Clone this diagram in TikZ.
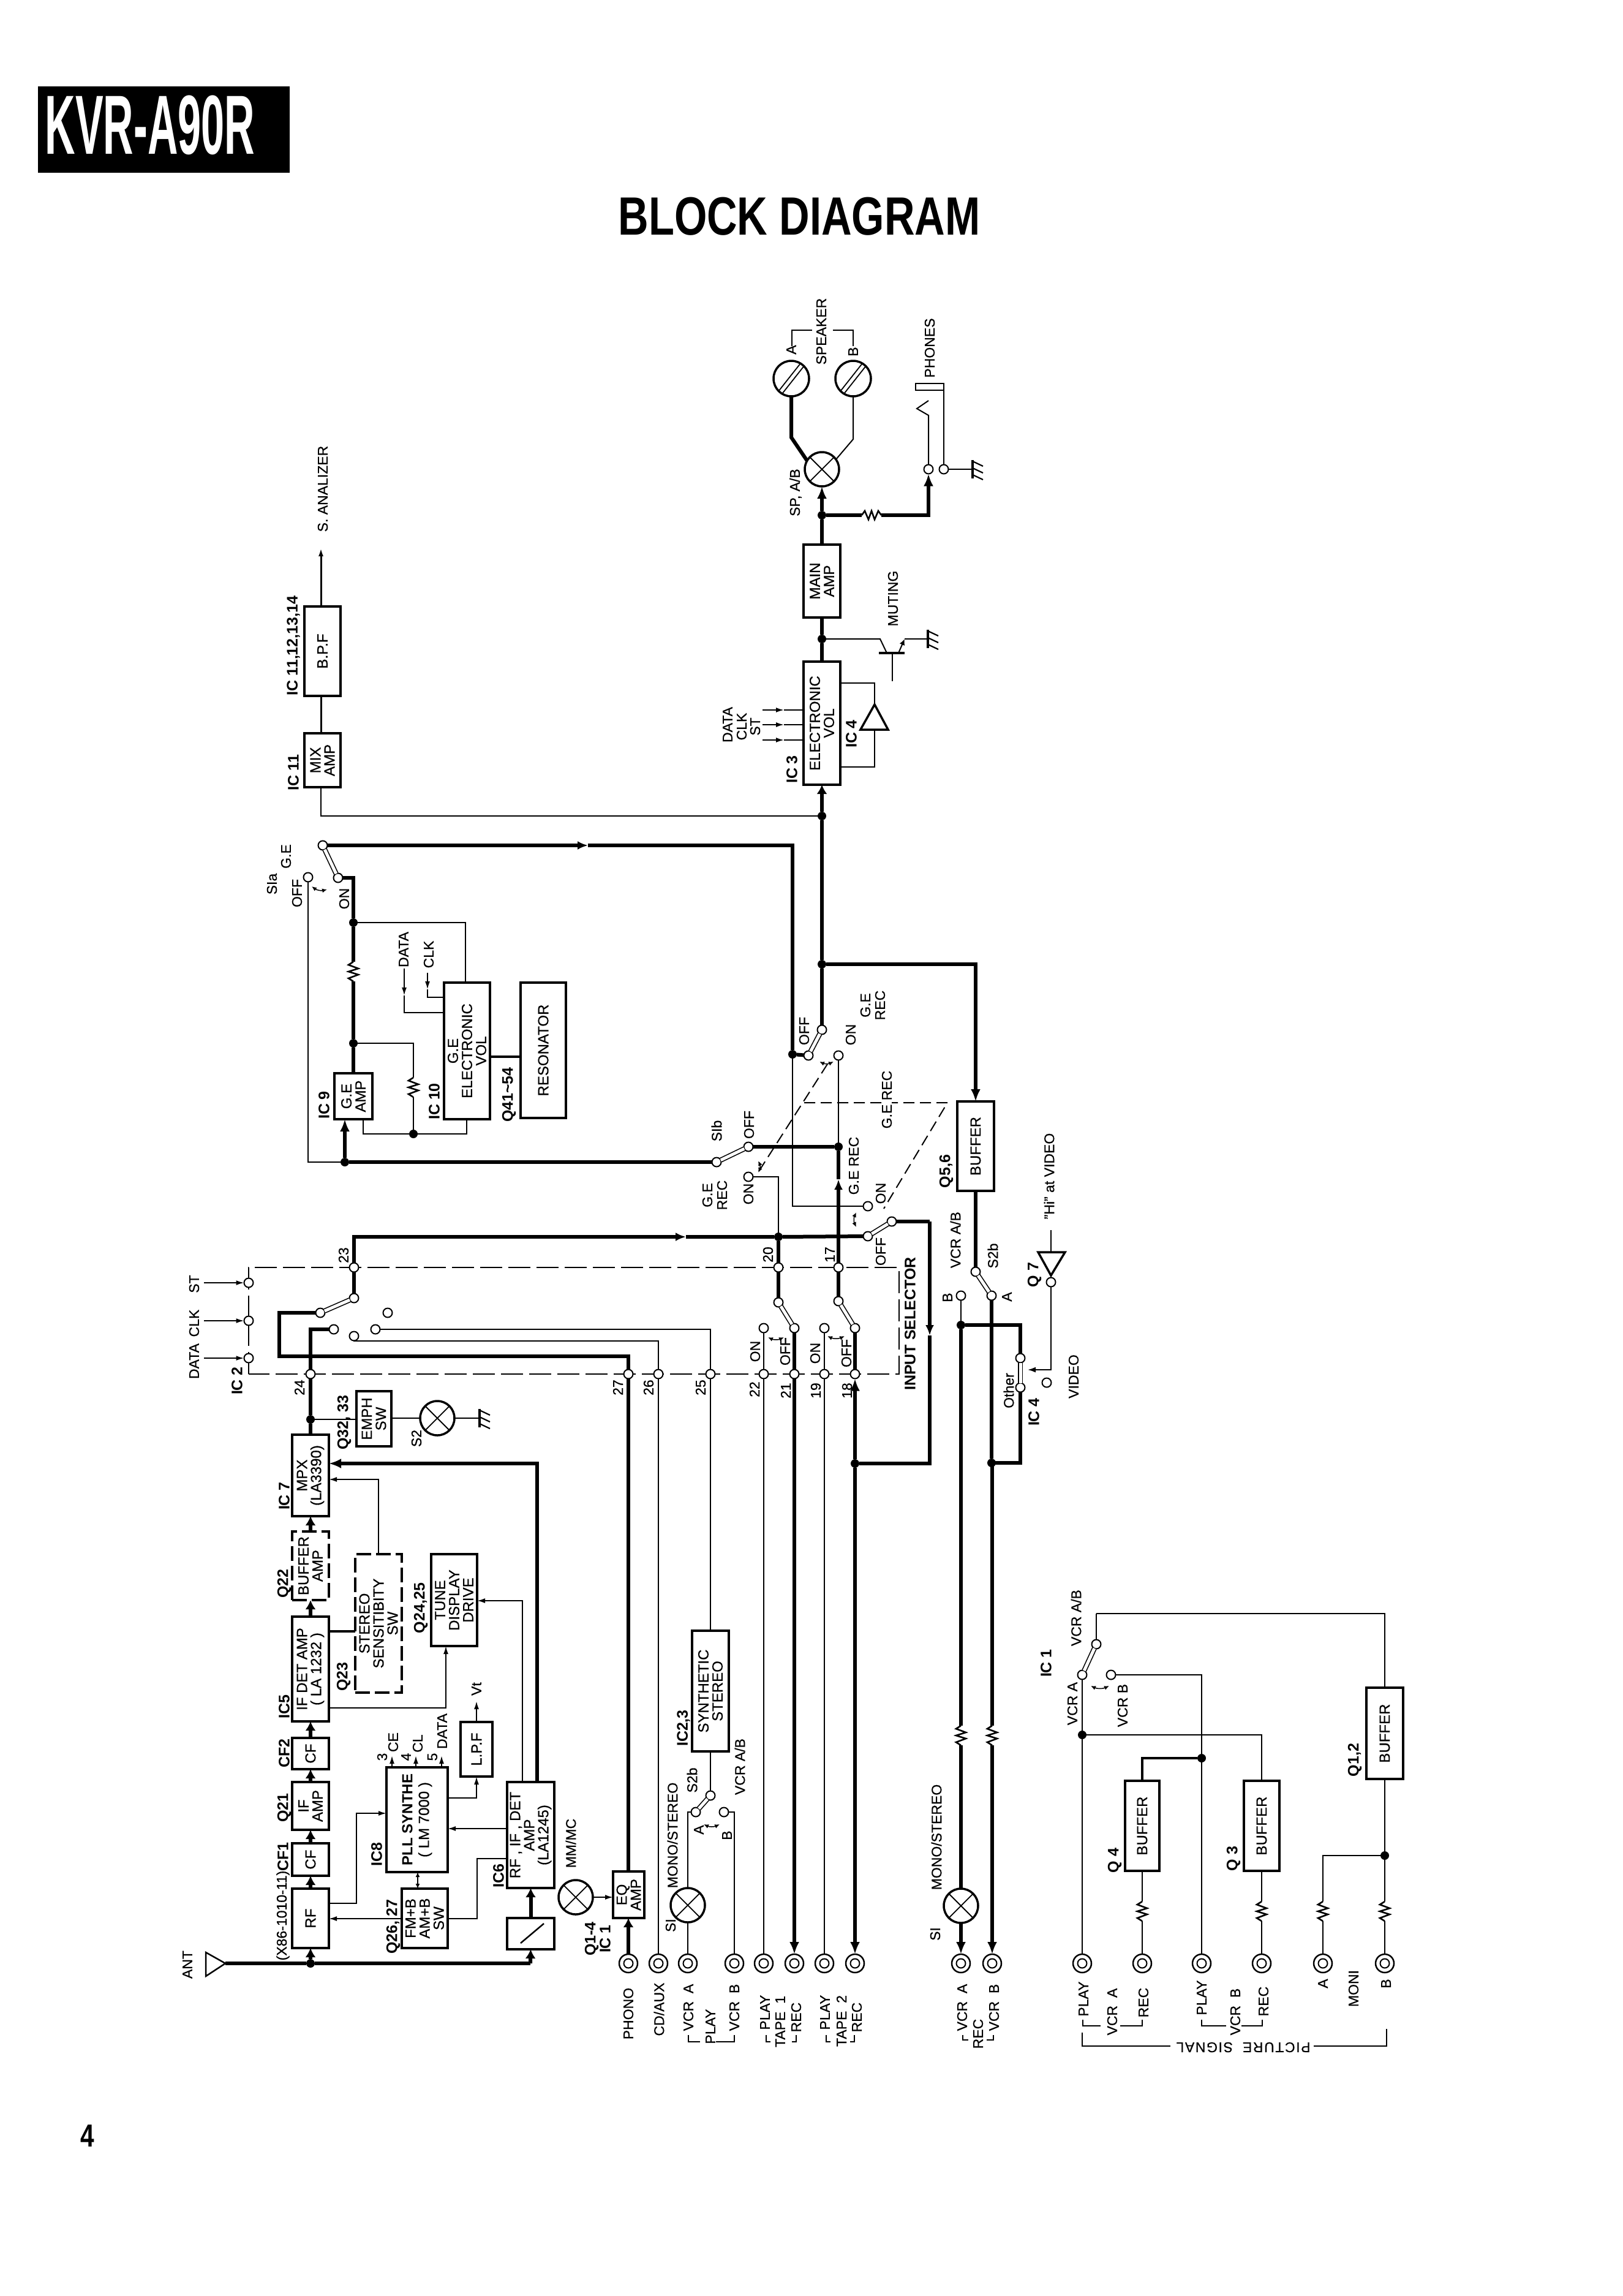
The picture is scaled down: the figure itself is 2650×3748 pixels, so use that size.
\documentclass[tikz,border=0pt]{standalone}
\usepackage{fontspec}
\setmainfont[FakeBold=0.6]{Liberation Sans}
\newfontfamily\boldlabel{Liberation Sans Bold}
\newfontfamily\bannerfont[FakeStretch=0.5]{Liberation Sans Bold}
\newfontfamily\titlefont[FakeStretch=0.78]{Liberation Sans Bold}
\usetikzlibrary{arrows.meta}
\tikzset{
  blockbox/.style={draw,rectangle,line width=3.5pt,inner sep=0pt,outer sep=0pt,fill=white},
  dashbox/.style={blockbox,dash pattern=on 24pt off 8pt},
  blocktext/.style={rotate=90,inner sep=0pt,align=center,font=\fontsize{24}{23}\selectfont},
  lab/.style={rotate=90,inner sep=0pt,align=center,font=\fontsize{23}{24}\selectfont},
  blab/.style={rotate=90,inner sep=0pt,align=center,font=\fontsize{25}{27}\selectfont\boldlabel},
  term/.style={circle,draw,fill=white,line width=2pt,minimum size=15pt,inner sep=0pt,outer sep=0pt},
  dotj/.style={circle,fill=black,minimum size=14pt,inner sep=0pt,outer sep=0pt},
  lamp/.style={circle,draw,fill=white,line width=3.5pt,minimum size=56pt,inner sep=0pt,outer sep=0pt,
    path picture={\draw[line width=1.8pt]
      (path picture bounding box.north west) -- (path picture bounding box.south east)
      (path picture bounding box.north east) -- (path picture bounding box.south west);}},
  speakerhead/.style={circle,draw,fill=white,line width=3.5pt,minimum size=58pt,inner sep=0pt,outer sep=0pt,
    path picture={\draw[line width=1.8pt,shift={(path picture bounding box.center)}]
      (-27,40) -- (33,-36) (-33,36) -- (27,-40);}},
  jackbox/.style={circle,draw,fill=white,line width=2.5pt,minimum size=30pt,inner sep=0pt,outer sep=0pt,
    path picture={\draw[line width=2pt] (path picture bounding box.center) circle (7.5pt);}},
  wa/.style={line width=2pt},
  wm/.style={line width=3.5pt},
  wb/.style={line width=6pt},
  tipB/.style={-{Latex[length=20pt,width=16pt]}},
  tipC/.style={-{Latex[length=15pt,width=17pt]}},
  tipL/.style={-{Latex[length=17pt,width=14pt]}},
  tipS/.style={-{Latex[length=13pt,width=8pt]}},
  armbar/.style={line width=1.6pt,double=white,double distance=5pt},
  busline/.style={line width=2pt,dash pattern=on 36pt off 10pt},
  linkline/.style={line width=2pt,dash pattern=on 18pt off 9pt},
  swing/.style={line width=1.5pt,{Latex[length=8pt,width=7pt]}-{Latex[length=8pt,width=7pt]}},
  groundbar/.pic={
    \draw[line width=4pt] (0,-15) -- (0,15);
    \draw[line width=2.2pt] (0,-13) -- (17,-5) (0,-2) -- (17,6) (0,9) -- (17,17);
    \coordinate (-in) at (0,0);
  },
  resv/.pic={
    \draw[line width=2.6pt] (0,-16) -- (-8,-11) -- (8,-5) -- (-8,0) -- (8,5) -- (-8,11) -- (0,16);
    \coordinate (-t) at (0,-16);
    \coordinate (-b) at (0,16);
  },
  resh/.pic={
    \draw[line width=2.6pt] (-16,0) -- (-11,-7) -- (-5,7) -- (0,-7) -- (5,7) -- (11,-7) -- (16,0);
    \coordinate (-l) at (-16,0);
    \coordinate (-r) at (16,0);
  },
}
% a block given by its corners, with its text set along the vertical
\newcommand\blk[7][]{%
  \node[blockbox,#1,minimum width={#5-#3},minimum height={#6-#4}] (#2) at ({(#3+#5)/2},{(#4+#6)/2}) {};
  \node[blocktext] (#2-text) at (#2.center) {#7};}
\newcommand\tl[4][lab]{\node[#1] (#2) at (#3) {#4};}
\begin{document}
\begin{tikzpicture}[x=1pt,y=-1pt]
\useasboundingbox (0,0) rectangle (2650,3748);
\fill[white] (0,0) rectangle (2650,3748);

% ---------- heading ----------
\node[fill=black,minimum width=411pt,minimum height=141pt,inner sep=0pt] (bannerbox) at (267.5,211.5) {};
\node[inner sep=0pt,text=white,font=\fontsize{137}{137}\selectfont\bannerfont] (banner) at (245,204) {KVR-A90R};
\node[inner sep=0pt,font=\fontsize{88}{88}\selectfont\titlefont] (heading) at (1305,353) {BLOCK DIAGRAM};
\node[inner sep=0pt,font=\fontsize{52}{52}\selectfont\titlefont] (pageno) at (143,3487) {4};

% ---------- control bus of the input selector IC ----------
\coordinate (busTL) at (406,2069);
\coordinate (busTR) at (1468,2069);
\coordinate (busBR) at (1468,2243);
\coordinate (busBL) at (406,2243);
\draw[busline] (busBL) -- (busTL) -- (busTR) -- (busBR) -- (busBL);

% ---------- blocks ----------
\blk{mpx}{477}{2342}{537}{2475}{MPX\\(LA3390)}
\blk[dashbox]{bufamp}{477}{2500}{537}{2612}{BUFFER\\AMP}
\blk{ifdet}{477}{2639}{537}{2810}{IF DET AMP\\( LA 1232 )}
\blk{cftwo}{477}{2837}{537}{2888}{CF}
\blk{ifamp}{477}{2909}{537}{2987}{IF\\AMP}
\blk{cfone}{477}{3009}{537}{3062}{CF}
\blk{rf}{477}{3083}{537}{3180}{RF}
\blk[dashbox]{stereo}{580}{2537}{656}{2763}{STEREO\\SENSITIBITY\\SW}
\blk{emph}{582}{2271}{639}{2361}{EMPH\\SW}
\blk{tune}{704}{2537}{779}{2687}{TUNE\\DISPLAY\\DRIVE}
\blk{lpf}{752}{2811}{804}{2900}{L.P.F}
\blk{pll}{631}{2885}{731}{3056}{{\boldlabel PLL SYNTHE}\\[4pt]( LM 7000 )}
\blk{fmsw}{656}{3083}{731}{3180}{FM+B\\AM+B\\SW}
\blk{rfif}{828}{2909}{905}{3082}{RF , IF , DET\\AMP\\(LA1245)}
\blk{tuner}{828}{3131}{905}{3182}{}
\blk{eqamp}{1001}{3055}{1052}{3131}{EQ\\AMP}
\blk{synth}{1130}{2662}{1190}{2859}{SYNTHETIC\\STEREO}
\blk{geamp}{546}{1752}{608}{1827}{G.E\\AMP}
\blk{gevol}{725}{1604}{800}{1827}{G.E\\ELECTRONIC\\VOL}
\blk{reson}{850}{1604}{924}{1825}{RESONATOR}
\blk{bpf}{497}{990}{556}{1136}{B.P.F}
\blk{mix}{497}{1197}{556}{1285}{MIX\\AMP}
\blk{ic3}{1312}{1080}{1372}{1281}{ELECTRONIC\\VOL}
\blk{mainamp}{1312}{889}{1372}{1008}{MAIN\\AMP}
\blk{bufmain}{1563}{1798}{1623}{1944}{BUFFER}
\blk{bufqfour}{1837}{2907}{1893}{3054}{BUFFER}
\blk{bufqthree}{2031}{2907}{2089}{3054}{BUFFER}
\blk{bufqone}{2231}{2755}{2291}{2904}{BUFFER}
\coordinate (tunerSlashA) at (850,3172);
\coordinate (tunerSlashB) at (888,3140);
\draw[line width=2.5pt] (tunerSlashA) -- (tunerSlashB);

% ---------- lamps and speakers ----------
\node[lamp] (lampStwo) at (714,2315) {};
\node[lamp] (lampMM) at (940,3097) {};
\node[lamp] (lampSone) at (1123,3110) {};
\node[lamp] (lampSoneR) at (1569,3111) {};
\node[lamp] (spab) at (1342,766) {};
\node[speakerhead] (spkA) at (1292,618) {};
\node[speakerhead] (spkB) at (1393,618) {};

% ---------- jacks ----------
\node[jackbox] (jPhono) at (1026,3205) {};
\node[jackbox] (jCD) at (1075,3205) {};
\node[jackbox] (jVA) at (1123,3205) {};
\node[jackbox] (jVB) at (1199,3205) {};
\node[jackbox] (jTP1) at (1247,3205) {};
\node[jackbox] (jTR1) at (1297,3205) {};
\node[jackbox] (jTP2) at (1346,3205) {};
\node[jackbox] (jTR2) at (1396,3205) {};
\node[jackbox] (jRA) at (1569,3205) {};
\node[jackbox] (jRB) at (1620,3205) {};
\node[jackbox] (jPA) at (1767,3205) {};
\node[jackbox] (jPRA) at (1865,3205) {};
\node[jackbox] (jPB) at (1962,3205) {};
\node[jackbox] (jPRB) at (2060,3205) {};
\node[jackbox] (jMA) at (2160,3205) {};
\node[jackbox] (jMB) at (2261,3205) {};

% ---------- bus terminals and switch contacts ----------
\node[term] (t24) at (507,2243) {};
\node[term] (t27) at (1026,2243) {};
\node[term] (t26) at (1075,2243) {};
\node[term] (t25) at (1160,2243) {};
\node[term] (t22) at (1247,2243) {};
\node[term] (t21) at (1297,2243) {};
\node[term] (t19) at (1346,2243) {};
\node[term] (t18) at (1396,2243) {};
\node[term] (t23) at (578,2069) {};
\node[term] (t20) at (1271,2069) {};
\node[term] (t17) at (1369,2069) {};
\node[term] (tST) at (406,2094) {};
\node[term] (tCLK) at (406,2156) {};
\node[term] (tDATA) at (406,2217) {};
\node[term] (selPole) at (578,2119) {};
\node[term] (selA) at (523,2143) {};
\node[term] (selB) at (545,2170) {};
\node[term] (selC) at (578,2181) {};
\node[term] (selD) at (613,2170) {};
\node[term] (selE) at (633,2143) {};
\node[term] (swaPole) at (1271,2126) {};
\node[term] (swaOff) at (1297,2168) {};
\node[term] (swaOn) at (1247,2168) {};
\node[term] (swbPole) at (1369,2124) {};
\node[term] (swbOff) at (1396,2168) {};
\node[term] (swbOn) at (1346,2168) {};
\node[term] (recPole) at (1456,1994) {};
\node[term] (recOff) at (1417,2018) {};
\node[term] (recOn) at (1417,1969) {};
\node[term] (sibPole) at (1170,1897) {};
\node[term] (sibOff) at (1222,1872) {};
\node[term] (sibOn) at (1222,1921) {};
\node[term] (gePole) at (1342,1681) {};
\node[term] (geOff) at (1320,1723) {};
\node[term] (geOn) at (1369,1723) {};
\node[term] (siaPole) at (527,1380) {};
\node[term] (siaOn) at (552,1433) {};
\node[term] (siaOff) at (503,1432) {};
\node[term] (vidPole) at (1593,2076) {};
\node[term] (vidA) at (1619,2115) {};
\node[term] (vidB) at (1569,2115) {};
\node[term] (icfourA) at (1666,2217) {};
\node[term] (icfourB) at (1666,2265) {};
\node[term] (icfourC) at (1709,2257) {};
\node[term] (qsevenOut) at (1716,2093) {};
\node[term] (sbPole) at (1160,2931) {};
\node[term] (sbA) at (1136,2958) {};
\node[term] (sbB) at (1182,2958) {};
\node[term] (picPole) at (1790,2684) {};
\node[term] (picA) at (1767,2734) {};
\node[term] (picB) at (1814,2734) {};
\node[term] (phTip) at (1516,766) {};
\node[term] (phSleeve) at (1541,766) {};

% ---------- junctions ----------
\node[dotj] (jAnt) at (507,3205) {};
\node[dotj] (jEmph) at (507,2317) {};
\node[dotj] (jTop) at (1271,2019) {};
\node[dotj] (jTape) at (1396,2389) {};
\node[dotj] (jGe) at (1294,1721) {};
\node[dotj] (jRec) at (1369,1872) {};
\node[dotj] (jBuf) at (1342,1574) {};
\node[dotj] (jMix) at (1342,1332) {};
\node[dotj] (jMute) at (1342,1043) {};
\node[dotj] (jPhones) at (1342,841) {};
\node[dotj] (jVolA) at (577,1506) {};
\node[dotj] (jVolB) at (577,1703) {};
\node[dotj] (jVolC) at (675,1851) {};
\node[dotj] (jAmpIn) at (563,1897) {};
\node[dotj] (jVidB) at (1569,2163) {};
\node[dotj] (jVidA) at (1619,2388) {};
\node[dotj] (jPicA) at (1767,2832) {};
\node[dotj] (jPicB) at (1962,2870) {};
\node[dotj] (jMoni) at (2261,3029) {};

% ---------- tuner signal path ----------
\coordinate (antTip) at (368,3205);
\draw[line width=2.5pt] (336,3187) -- (antTip) -- (336,3226) -- cycle;
\coordinate (antEnd) at (866,3205);
\draw[wb] (antTip) -- (jAnt) -- (antEnd);
\draw[wb,tipC] (jAnt) -- (rf.south);
\draw[wb,tipC] (antEnd) -- (tuner.south);
\draw[wb,tipC] (tuner.north) -- (tuner.north |- rfif.south);
\draw[wb,tipC] (rf.north) -- (cfone.south);
\draw[wb,tipC] (cfone.north) -- (ifamp.south);
\draw[wb,tipC] (ifamp.north) -- (cftwo.south);
\draw[wb,tipC] (cftwo.north) -- (ifdet.south);
\draw[wb,tipC] (ifdet.north) -- (bufamp.south);
\draw[wb,tipC] (bufamp.north) -- (mpx.south);
\draw[wb] (mpx.north) -- (jEmph) -- (t24);
\draw[wb] (t24) |- (selB);
\draw[wa] (jEmph) -- (emph.west |- jEmph);
\draw[wa] (emph.east |- lampStwo) -- (lampStwo);
\pic (gndStwo) at (783,2315) {groundbar};
\draw[wa] (lampStwo) -- (gndStwo-in);
\draw[wb,tipB] (877,2909) |- (mpx.east |- 0,2389);
\draw[wa,tipS] (853,2909) |- (tune.east |- 0,2613);
\draw[wa,tipS] (ifdet.east |- 0,2788) -| (tune.south -| 728,0);
\draw[wm] (ifdet.east |- 0,2663) -- (stereo.west |- 0,2663);
\draw[wa,tipS] (stereo.north -| 618,0) |- (mpx.east |- 0,2415);
\draw[wa,tipS] (pll.east |- 0,2935) -| (lpf.south -| 778,0);
\draw[wa,tipS] (lpf.north) -- (778,2777);
\draw[wa,tipS] (rfif.west |- 0,2985) -- (pll.east |- 0,2985);
\draw[wa,tipS] (rf.east |- 0,3107) -- (582,3107) |- (pll.west |- 0,2960);
\draw[wa,tipS] (fmsw.west |- 0,3132) -- (rf.east |- 0,3132);
\draw[wa,<->,>={Latex[length=8pt,width=7pt]}] (682,3056) -- (682,3083);
\draw[wa] (fmsw.east |- 0,3132) -- (779,3132) |- (rfif.west |- 0,3034);
\draw[wa,tipS] (640,2885) -- (640,2866);
\draw[wa,tipS] (679,2885) -- (679,2866);
\draw[wa,tipS] (721,2885) -- (721,2866);
\draw[wa,tipS] (lampMM) -- (eqamp.west |- lampMM);
\draw[wb,tipC] (jPhono) -- (eqamp.south -| jPhono);
\draw[wb] (eqamp.north -| t27) -- (t27);

% ---------- function selector ----------
\draw[wa,tipS] (333,2094) -- (tST);
\draw[wa,tipS] (333,2156) -- (tCLK);
\draw[wa,tipS] (333,2217) -- (tDATA);
\draw[wb] (t23) -- (selPole);
\draw[armbar] (selPole) -- (selA);
\draw[wb] (selA) -- (456,2143) |- (1026,2214) -- (t27);
\draw[wa] (selC) -- (578,2189) -| (t26);
\draw[wa] (t26) -- (jCD);
\draw[wa] (selD) -| (t25);
\draw[wa] (t25) -- (synth.north -| t25);
\draw[wa] (synth.south) -- (sbPole);
\draw[armbar] (sbPole) -- (sbA);
\draw[wa] (sbA) -| (lampSone);
\draw[wa] (lampSone) -- (jVA);
\draw[wa] (sbB) -| (jVB);
\draw[swing] (1149,2978) to[bend right=25] (1175,2978);

% ---------- record output selection ----------
\coordinate (topArrow) at (1120,2019);
\draw[wb,tipL] (t23) |- (topArrow);
\draw[wb] (topArrow) -- (jTop) -- (recOff);
\draw[armbar] (recPole) -- (recOff);
\draw[wb] (jTop) -- (t20) -- (swaPole);
\draw[armbar] (swaPole) -- (swaOff);
\draw[wb] (t17) -- (swbPole);
\draw[armbar] (swbPole) -- (swbOff);
\draw[wa] (swaOn) -- (t22) -- (jTP1);
\draw[wb] (swaOff) -- (t21);
\draw[wb,tipB] (t21) -- (jTR1);
\draw[wa] (swbOn) -- (t19) -- (jTP2);
\draw[wb] (swbOff) -- (t18);
\draw[wb,tipB] (jTape) -- (t18);
\draw[wb,tipB] (jTape) -- (jTR2);
\coordinate (loopTop) at (1518,1994);
\coordinate (loopMid) at (1518,2180);
\coordinate (loopBot) at (1518,2389);
\draw[wb] (recPole) -- (loopTop);
\draw[wb,tipL] (loopTop) -- (loopMid);
\draw[wb] (loopMid) -- (loopBot) -- (jTape);
\draw[wa] (sibOn) -| (jTop);
\draw[wb] (sibOff) -- (jRec);
\coordinate (recArrow) at (1369,1925);
\draw[wb,tipL] (t17) -- (recArrow);
\draw[wb] (recArrow) -- (jRec);
\draw[armbar] (sibPole) -- (sibOff);
\draw[wb] (jAmpIn) -- (sibPole);
\draw[wa] (geOn) -- (jRec);
\draw[armbar] (gePole) -- (geOff);
\draw[wb] (jGe) -- (geOff);
\draw[wa] (jGe) |- (recOn);
\coordinate (linkA) at (1351,1737);
\coordinate (linkB) at (1239,1912);
\coordinate (linkC) at (1313,1800);
\coordinate (linkD) at (1547,1800);
\coordinate (linkE) at (1443,1973);
\draw[linkline] (linkA) -- (linkB);
\draw[linkline] (linkC) -- (linkD) -- (linkE);
\draw[swing] (1338,1733) to[bend right=25] (1361,1733);
\draw[swing] (1238,1895) to[bend left=25] (1238,1914);
\draw[swing] (1398,1979) to[bend right=25] (1398,2003);
\draw[swing] (1254,2183) to[bend right=25] (1280,2183);
\draw[swing] (1351,2181) to[bend right=25] (1379,2181);
\draw[swing] (509,1447) to[bend right=25] (534,1452);

% ---------- graphic equalizer ----------
\coordinate (geTopCorner) at (1294,1380);
\coordinate (geTopArrow) at (960,1380);
\draw[wb,tipL] (siaPole) -- (geTopArrow);
\draw[wb] (geTopArrow) -- (geTopCorner) -- (jGe);
\draw[armbar] (siaPole) -- (siaOn);
\pic (resGe) at (577,1586) {resv};
\draw[wb] (siaOn) -| (jVolA);
\draw[wb] (jVolA) -- (resGe-t);
\draw[wb] (resGe-b) -- (jVolB);
\draw[wb] (jVolB) -- (geamp.north -| jVolB);
\draw[wb,tipB] (jAmpIn) -- (geamp.south -| jAmpIn);
\draw[wa] (siaOff) |- (jAmpIn);
\draw[wa] (jVolA) -| (gevol.north -| 760,0);
\pic (resFb) at (675,1775) {resv};
\draw[wa] (jVolB) -| (resFb-t);
\draw[wa] (resFb-b) -- (jVolC);
\draw[wa] (geamp.south -| 593,0) |- (jVolC);
\draw[wa] (jVolC) -| (gevol.south -| 762,0);
\draw[wm] (gevol.east |- 0,1725) -- (reson.west |- 0,1725);
\coordinate (dataEnd) at (660,1581);
\coordinate (clkEnd) at (698,1588);
\draw[wa,<-,>={Latex[length=13pt,width=8pt]}] (660,1625) -- (dataEnd);
\draw[wa] (660,1625) |- (gevol.west |- 0,1653);
\draw[wa,<-,>={Latex[length=13pt,width=8pt]}] (698,1615) -- (clkEnd);
\draw[wa] (698,1615) |- (gevol.west |- 0,1628);

% ---------- tone-analyzer branch ----------
\coordinate (analyzerOut) at (524,895);
\draw[line width=3pt,tipS] (bpf.north -| 524,0) -- (analyzerOut);
\draw[line width=3pt] (bpf.south -| 524,0) -- (mix.north -| 524,0);
\draw[line width=2.4pt] (mix.south -| 524,0) |- (jMix);

% ---------- main amplifier and outputs ----------
\draw[wb] (jBuf) -- (gePole);
\draw[wb] (jBuf) -- (jMix);
\draw[wb,tipC] (jMix) -- (ic3.south);
\draw[wb] (ic3.north) -- (jMute) -- (mainamp.south);
\draw[wb] (mainamp.north) -- (jPhones);
\draw[wb,tipB] (jPhones) -- (spab.south);
\draw[wb] (spkA.south) -- (1292,714) -- (spab.150);
\draw[wa] (spkB.south) -- (1393,717) -- (spab.35);
\pic (resPh) at (1423,841) {resh};
\draw[wb] (jPhones) -- (resPh-l);
\draw[wb,tipB] (resPh-r) -| (phTip);
\coordinate (tipUp) at (1516,678);
\draw[wa] (phTip) -- (tipUp) -- (1497,667) -- (1516,654);
\draw[wa] (phSleeve) -- (1541,626) -- (1495,626) -- (1495,637) -- (1541,637);
\pic (gndPh) at (1588,766) {groundbar};
\draw[wa] (phSleeve) -- (gndPh-in);
\draw[wa] (1293,565) |- (1326,539);
\draw[wa] (1360,539) -| (1393,565);
% muting transistor
\coordinate (qBaseBarA) at (1435,1066);
\coordinate (qBaseBarB) at (1477,1066);
\coordinate (qBaseIn) at (1457,1112);
\draw[wa] (jMute) -- (1437,1043) -- (1448,1066);
\draw[line width=3.5pt] (qBaseBarA) -- (qBaseBarB);
\draw[wa] (qBaseIn) -- (1457,1066);
\draw[wa,<-,>={Latex[length=10pt,width=9pt]}] (1477,1043) -- (1467,1066);
\pic (gndMute) at (1515,1043) {groundbar};
\draw[wa] (1477,1043) -- (gndMute-in);
% electronic volume controls and its op amp
\draw[wa,tipS] (1245,1159) -- (1280,1159);
\draw[wa] (1280,1159) -- (ic3.west |- 0,1159);
\draw[wa,tipS] (1245,1183) -- (1280,1183);
\draw[wa] (1280,1183) -- (ic3.west |- 0,1183);
\draw[wa,tipS] (1245,1208) -- (1280,1208);
\draw[wa] (1280,1208) -- (ic3.west |- 0,1208);
\coordinate (opApex) at (1428,1150);
\draw[line width=3.5pt] (opApex) -- (1405,1191) -- (1450,1191) -- cycle;
\draw[wa] (opApex) |- (ic3.east |- 0,1115);
\draw[wa] (1428,1191) |- (ic3.east |- 0,1252);

% ---------- record / video path ----------
\coordinate (bufArrow) at (1593,1770);
\draw[wb] (jBuf) -| (bufArrow);
\draw[wb,tipB] (bufArrow) -- (bufmain.north);
\draw[wb] (bufmain.south) -- (vidPole);
\draw[armbar] (vidPole) -- (vidA);
\draw[wa] (vidB) -- (jVidB);
\draw[wb] (jVidB) -| (icfourA);
\draw[armbar] (icfourA) -- (icfourB);
\draw[wb] (icfourB) |- (jVidA);
\draw[wb] (vidA) -- (jVidA);
\pic (resRA) at (1569,2833) {resv};
\pic (resRB) at (1620,2833) {resv};
\draw[wb] (jVidB) -- (resRA-t);
\draw[wb] (jVidA) -- (1620,2388) -- (resRB-t);
\draw[wb] (resRA-b) -- (lampSoneR);
\draw[wb,tipB] (lampSoneR) -- (jRA);
\draw[wb,tipB] (resRB-b) -- (jRB);
\coordinate (qsevenA) at (1695,2044);
\coordinate (qsevenB) at (1739,2044);
\coordinate (qsevenC) at (1716,2082);
\coordinate (hiIn) at (1716,2008);
\draw[line width=3.5pt] (qsevenA) -- (qsevenB) -- (qsevenC) -- cycle;
\draw[wa] (hiIn) -- (1716,2044);
\draw[wa] (qsevenC) -- (qsevenOut);
\draw[wa,{Latex[length=13pt,width=9pt]}-] (1678,2236) -| (qsevenOut);

% ---------- picture signal ----------
\coordinate (picTurn) at (1790,2634);
\draw[armbar] (picPole) -- (picA);
\draw[wa] (picPole) -- (picTurn);
\draw[wa] (picTurn) -| (bufqone.north -| 2261,0);
\draw[wa] (picA) -- (jPicA) -- (jPA);
\draw[wa] (picB) -| (jPicB);
\draw[wa] (jPicB) -- (jPB);
\draw[wm] (bufqfour.north -| 1865,0) |- (jPicB);
\draw[wa] (jPicA) -| (bufqthree.north -| 2060,0);
\pic (resQfour) at (1865,3120) {resv};
\pic (resQthree) at (2060,3120) {resv};
\pic (resMA) at (2160,3120) {resv};
\pic (resMB) at (2261,3120) {resv};
\draw[wa] (bufqfour.south -| 1865,0) -- (resQfour-t);
\draw[wa] (resQfour-b) -- (jPRA);
\draw[wa] (bufqthree.south -| 2060,0) -- (resQthree-t);
\draw[wa] (resQthree-b) -- (jPRB);
\draw[wa] (bufqone.south -| 2261,0) -- (jMoni);
\draw[wa] (jMoni) -- (resMB-t);
\draw[wa] (resMB-b) -- (jMB);
\draw[wa] (jMoni) -| (resMA-t);
\draw[wa] (resMA-b) -- (jMA);
\draw[swing] (1781,2752) to[bend right=25] (1811,2752);

% small brackets beside the jack names
\draw[wa] (1124,3322) |- (1143,3333);
\draw[wa] (1199,3322) |- (1169,3333);
\draw[wa] (1251,3322) |- (1258,3333);
\draw[wa] (1300,3322) |- (1293,3333);
\draw[wa] (1349,3322) |- (1356,3333);
\draw[wa] (1395,3322) |- (1388,3333);
\draw[wa] (1572,3322) |- (1581,3330);
\draw[wa] (1622,3322) |- (1611,3330);
\draw[wa] (1768,3297) |- (1797,3307);
\draw[wa] (1865,3297) |- (1829,3307);
\draw[wa] (1962,3297) |- (2002,3307);
\draw[wa] (2061,3297) |- (2027,3307);
\draw[wa] (1767,3318) |- (1911,3340);
\draw[wa] (2264,3312) |- (2145,3340);

% ---------- circuit reference labels ----------
\tl[blab]{lbICseven}{464,2442}{IC 7}
\tl[blab]{lbQtt}{464,2585}{Q22}
\tl[blab]{lbQtth}{561,2737}{Q23}
\tl[blab]{lbICfive}{464,2786}{IC5}
\tl[blab]{lbCFtwo}{464,2862}{CF2}
\tl[blab]{lbQto}{464,2951}{Q21}
\tl[blab]{lbCFone}{462,3031}{CF1}
\tl{lbXeight}{462,3127}{(X86-1010-11)}
\tl[blab]{lbQtt33}{562,2322}{Q32, 33}
\tl[blab]{lbQtf}{687,2625}{Q24,25}
\tl[blab]{lbICeight}{615,3027}{IC8}
\tl[blab]{lbQts}{642,3145}{Q26, 27}
\tl[blab]{lbICsix}{814,3062}{IC6}
\tl[blab]{lbQfour}{966,3165}{Q1-4}
\tl[blab]{lbICone}{988,3165}{IC 1}
\tl[blab]{lbICtt}{1116,2821}{IC2,3}
\tl[blab]{lbICtwo}{387,2254}{IC 2}
\tl[blab]{lbICnine}{529,1804}{IC 9}
\tl[blab]{lbICten}{709,1798}{IC 10}
\tl[blab]{lbQff}{831,1787}{Q41\char`\~54}
\tl[blab]{lbICele}{479,1054}{IC 11,12,13,14}
\tl[blab]{lbICel}{479,1261}{IC 11}
\tl[blab]{lbICthree}{1293,1256}{IC 3}
\tl[blab]{lbICfourA}{1390,1198}{IC 4}
\tl[blab]{lbQfive}{1545,1912}{Q5,6}
\tl[blab]{lbQseven}{1689,2081}{Q 7}
\tl[blab]{lbICfourB}{1688,2305}{IC 4}
\tl[blab]{lbIConeR}{1708,2715}{IC 1}
\tl[blab]{lbQfr}{1820,3037}{Q 4}
\tl[blab]{lbQthr}{2014,3034}{Q 3}
\tl[blab]{lbQone}{2212,2873}{Q1,2}

% ---------- bus pin numbers ----------
\tl{pinTF}{489,2265}{24}
\tl{pinTS}{1009,2265}{27}
\tl{pinTSi}{1059,2265}{26}
\tl{pinTFi}{1144,2265}{25}
\tl{pinTT}{1232,2268}{22}
\tl{pinTO}{1283,2270}{21}
\tl{pinNT}{1332,2270}{19}
\tl{pinET}{1383,2270}{18}
\tl{pinTZ}{1254,2048}{20}
\tl{pinST}{1355,2048}{17}
\tl{pinTTh}{561,2049}{23}
\tl{pinThree}{624,2868}{3}
\tl{pinFour}{663,2868}{4}
\tl{pinFive}{706,2868}{5}

% ---------- signal and switch names ----------
\tl{txtANT}{306,3207}{ANT}
\tl{txtST}{317,2096}{ST}
\tl{txtCLK}{317,2160}{CLK}
\tl{txtDATA}{317,2222}{DATA}
\tl{txtS2}{680,2348}{S2}
\tl{txtCE}{642,2844}{CE}
\tl{txtCL}{682,2846}{CL}
\tl{txtDATApll}{722,2826}{DATA}
\tl{txtVt}{778,2757}{Vt}
\tl{txtMM}{932,3009}{MM/MC}
\tl{txtMono}{1098,2996}{MONO/STEREO}
\tl{txtSI}{1095,3143}{SI}
\tl{txtSb}{1130,2906}{S2b}
\tl{txtVab}{1208,2884}{VCR A/B}
\tl{txtAs}{1141,2987}{A}
\tl{txtBs}{1187,2996}{B}
\tl{txtSIa}{444,1443}{SIa}
\tl{txtGE}{467,1398}{G.E}
\tl{txtOFFa}{485,1458}{OFF}
\tl{txtONa}{562,1467}{ON}
\tl{txtDATAg}{659,1550}{DATA}
\tl{txtCLKg}{700,1558}{CLK}
\tl{txtOFFb}{1313,1683}{OFF}
\tl{txtONb}{1389,1689}{ON}
\tl{txtGErec}{1425,1641}{G.E\\REC}
\tl[lab,fill=white]{txtGErecB}{1448,1795}{G.E REC}
\tl{txtGErecC}{1394,1903}{G.E REC}
\tl{txtSIb}{1170,1846}{SIb}
\tl{txtOFFc}{1223,1836}{OFF}
\tl{txtONc}{1222,1949}{ON}
\tl{txtGErecD}{1167,1951}{G.E\\REC}
\tl{txtONd}{1438,1948}{ON}
\tl{txtOFFd}{1438,2043}{OFF}
\tl[blab]{txtInput}{1486,2161}{INPUT SELECTOR}
\tl{txtONe}{1233,2206}{ON}
\tl{txtOFFe}{1282,2206}{OFF}
\tl{txtONf}{1331,2209}{ON}
\tl{txtOFFf}{1382,2209}{OFF}
\tl{txtVabB}{1560,2024}{VCR A/B}
\tl{txtSbB}{1621,2050}{S2b}
\tl{txtBv}{1547,2118}{B}
\tl{txtAv}{1644,2117}{A}
\tl{txtHi}{1713,1920}{"Hi" at VIDEO}
\tl{txtVideo}{1753,2247}{VIDEO}
\tl{txtOther}{1647,2270}{Other}
\tl{txtAnalizer}{527,798}{S. ANALIZER}
\tl{txtData}{1188,1183}{DATA}
\tl{txtClk}{1211,1186}{CLK}
\tl{txtSt}{1233,1186}{ST}
\tl{txtMuting}{1458,977}{MUTING}
\tl{txtSpAB}{1299,804}{SP, A/B}
\tl{txtSpeaker}{1341,541}{SPEAKER}
\tl{txtA}{1292,571}{A}
\tl{txtB}{1393,574}{B}
\tl{txtPhones}{1518,568}{PHONES}
\tl{txtVcrA}{1751,2781}{VCR A}
\tl{txtVcrB}{1833,2784}{VCR B}
\tl{txtVcrAB}{1757,2641}{VCR A/B}
\tl{txtSIr}{1527,3157}{SI}
\tl{txtMonoR}{1529,2999}{MONO/STEREO}

% ---------- jack names ----------
\tl{jnPhono}{1026,3287}{PHONO}
\tl{jnCD}{1076,3280}{CD/AUX}
\tl{jnVA}{1124,3277}{VCR\ \ A}
\tl{jnVB}{1199,3277}{VCR\ \ B}
\tl{jnPlay}{1160,3308}{PLAY}
\tl{jnTP}{1249,3285}{PLAY}
\tl{jnTape}{1274,3300}{TAPE\ \ 1}
\tl{jnTR}{1300,3293}{REC}
\tl{jnTPb}{1347,3285}{PLAY}
\tl{jnTapeb}{1374,3299}{TAPE\ \ 2}
\tl{jnTRb}{1399,3293}{REC}
\tl{jnRA}{1571,3277}{VCR\ \ A}
\tl{jnRB}{1623,3277}{VCR\ \ B}
\tl{jnRec}{1597,3320}{REC}
\tl{jnPA}{1769,3263}{PLAY}
\tl{jnPVa}{1816,3284}{VCR\ \ A}
\tl{jnPRa}{1867,3269}{REC}
\tl{jnPB}{1962,3261}{PLAY}
\tl{jnPVb}{2017,3284}{VCR\ \ B}
\tl{jnPRb}{2063,3267}{REC}
\tl{jnMA}{2160,3238}{A}
\tl{jnMoni}{2210,3246}{MONI}
\tl{jnMB}{2263,3238}{B}
\node[lab,rotate=90] (jnPicture) at (2030,3342) {\addfontfeature{LetterSpace=7}PICTURE\ \ SIGNAL};
\end{tikzpicture}
\end{document}
